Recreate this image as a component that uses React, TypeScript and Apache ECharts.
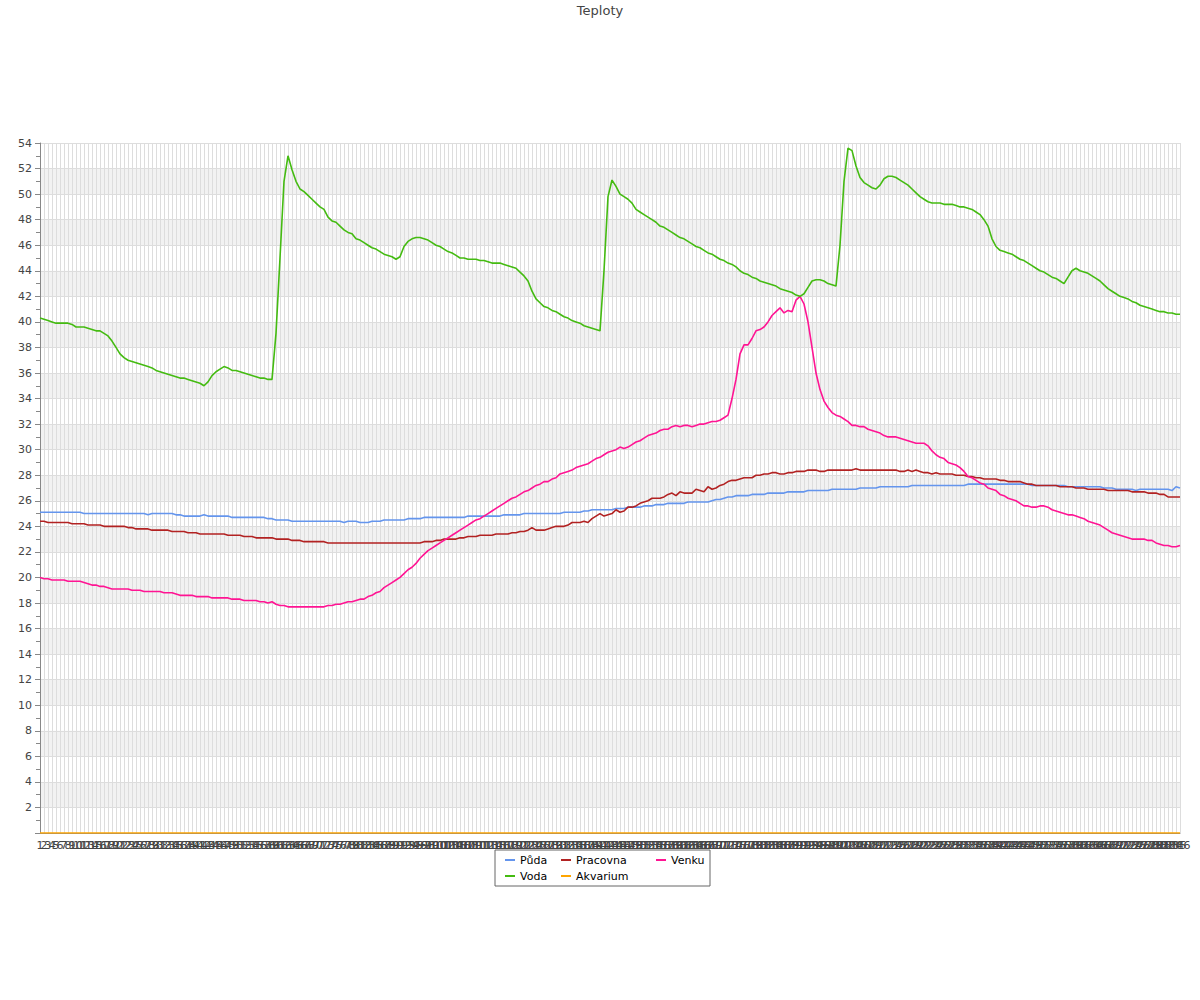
import React, { useEffect, useRef } from "react";
import * as echarts from "echarts";

const categories: string[] = [];
for (let i = 1; i <= 286; i++) categories.push(String(i));

const voda = [
  40.3, 40.2, 40.1, 40.0, 39.9, 39.9, 39.9, 39.9, 39.8, 39.6,
  39.6, 39.6, 39.5, 39.4, 39.3, 39.3, 39.1, 38.9, 38.5, 38.0,
  37.5, 37.2, 37.0, 36.9, 36.8, 36.7, 36.6, 36.5, 36.4, 36.2,
  36.1, 36.0, 35.9, 35.8, 35.7, 35.6, 35.6, 35.5, 35.4, 35.3,
  35.2, 35.0, 35.3, 35.8, 36.1, 36.3, 36.5, 36.4, 36.2, 36.2,
  36.1, 36.0, 35.9, 35.8, 35.7, 35.6, 35.6, 35.5, 35.5, 39.1,
  45.0, 51.0, 53.0, 51.9, 51.0, 50.4, 50.2, 49.9, 49.6, 49.3,
  49.0, 48.8, 48.2, 47.9, 47.8, 47.5, 47.2, 47.0, 46.9, 46.5,
  46.4, 46.2, 46.0, 45.8, 45.7, 45.5, 45.3, 45.2, 45.1, 44.9,
  45.1, 45.9, 46.3, 46.5, 46.6, 46.6, 46.5, 46.4, 46.2, 46.0,
  45.9, 45.7, 45.5, 45.4, 45.2, 45.0, 45.0, 44.9, 44.9, 44.9,
  44.8, 44.8, 44.7, 44.6, 44.6, 44.6, 44.5, 44.4, 44.3, 44.2,
  43.9, 43.6, 43.2, 42.4, 41.8, 41.5, 41.2, 41.1, 40.9, 40.8,
  40.6, 40.4, 40.3, 40.1, 40.0, 39.9, 39.7, 39.6, 39.5, 39.4,
  39.3, 44.0, 49.8, 51.1, 50.6, 50.0, 49.8, 49.6, 49.3, 48.8,
  48.6, 48.4, 48.2, 48.0, 47.8, 47.5, 47.4, 47.2, 47.0, 46.8,
  46.6, 46.5, 46.3, 46.1, 45.9, 45.8, 45.6, 45.4, 45.3, 45.1,
  44.9, 44.8, 44.6, 44.5, 44.3, 44.0, 43.8, 43.7, 43.5, 43.4,
  43.2, 43.1, 43.0, 42.9, 42.8, 42.6, 42.5, 42.4, 42.3, 42.1,
  42.0, 42.2, 42.7, 43.2, 43.3, 43.3, 43.2, 43.0, 42.9, 42.8,
  46.0, 51.0, 53.6, 53.4, 52.2, 51.3, 50.9, 50.7, 50.5, 50.4,
  50.7, 51.2, 51.4, 51.4, 51.3, 51.1, 50.9, 50.7, 50.4, 50.1,
  49.8, 49.6, 49.4, 49.3, 49.3, 49.3, 49.2, 49.2, 49.2, 49.1,
  49.0, 49.0, 48.9, 48.8, 48.6, 48.4, 48.0, 47.5, 46.5, 45.9,
  45.6, 45.5, 45.4, 45.3, 45.1, 44.9, 44.8, 44.6, 44.4, 44.2,
  44.0, 43.9, 43.7, 43.5, 43.4, 43.2, 43.0, 43.5, 44.0, 44.2,
  44.0, 43.9, 43.8, 43.6, 43.4, 43.2, 42.9, 42.6, 42.4, 42.2,
  42.0, 41.9, 41.8, 41.6, 41.5, 41.3, 41.2, 41.1, 41.0, 40.9,
  40.8, 40.8, 40.7, 40.7, 40.6, 40.6,
];

const puda = [
  25.1, 25.1, 25.1, 25.1, 25.1, 25.1, 25.1, 25.1, 25.1, 25.1,
  25.1, 25.0, 25.0, 25.0, 25.0, 25.0, 25.0, 25.0, 25.0, 25.0,
  25.0, 25.0, 25.0, 25.0, 25.0, 25.0, 25.0, 24.9, 25.0, 25.0,
  25.0, 25.0, 25.0, 25.0, 24.9, 24.9, 24.8, 24.8, 24.8, 24.8,
  24.8, 24.9, 24.8, 24.8, 24.8, 24.8, 24.8, 24.8, 24.7, 24.7,
  24.7, 24.7, 24.7, 24.7, 24.7, 24.7, 24.7, 24.6, 24.6, 24.5,
  24.5, 24.5, 24.5, 24.4, 24.4, 24.4, 24.4, 24.4, 24.4, 24.4,
  24.4, 24.4, 24.4, 24.4, 24.4, 24.4, 24.3, 24.4, 24.4, 24.4,
  24.3, 24.3, 24.3, 24.4, 24.4, 24.4, 24.5, 24.5, 24.5, 24.5,
  24.5, 24.5, 24.6, 24.6, 24.6, 24.6, 24.7, 24.7, 24.7, 24.7,
  24.7, 24.7, 24.7, 24.7, 24.7, 24.7, 24.7, 24.8, 24.8, 24.8,
  24.8, 24.8, 24.8, 24.8, 24.8, 24.8, 24.9, 24.9, 24.9, 24.9,
  24.9, 25.0, 25.0, 25.0, 25.0, 25.0, 25.0, 25.0, 25.0, 25.0,
  25.0, 25.1, 25.1, 25.1, 25.1, 25.1, 25.2, 25.2, 25.3, 25.3,
  25.3, 25.3, 25.3, 25.3, 25.4, 25.4, 25.4, 25.5, 25.5, 25.5,
  25.5, 25.6, 25.6, 25.6, 25.7, 25.7, 25.7, 25.8, 25.8, 25.8,
  25.8, 25.8, 25.9, 25.9, 25.9, 25.9, 25.9, 25.9, 26.0, 26.1,
  26.1, 26.2, 26.3, 26.3, 26.4, 26.4, 26.4, 26.4, 26.5, 26.5,
  26.5, 26.5, 26.6, 26.6, 26.6, 26.6, 26.6, 26.7, 26.7, 26.7,
  26.7, 26.7, 26.8, 26.8, 26.8, 26.8, 26.8, 26.8, 26.9, 26.9,
  26.9, 26.9, 26.9, 26.9, 26.9, 27.0, 27.0, 27.0, 27.0, 27.0,
  27.1, 27.1, 27.1, 27.1, 27.1, 27.1, 27.1, 27.1, 27.2, 27.2,
  27.2, 27.2, 27.2, 27.2, 27.2, 27.2, 27.2, 27.2, 27.2, 27.2,
  27.2, 27.2, 27.3, 27.3, 27.3, 27.3, 27.3, 27.3, 27.3, 27.3,
  27.3, 27.3, 27.3, 27.3, 27.3, 27.3, 27.3, 27.3, 27.2, 27.2,
  27.2, 27.2, 27.2, 27.2, 27.2, 27.2, 27.2, 27.1, 27.1, 27.1,
  27.1, 27.1, 27.1, 27.1, 27.1, 27.1, 27.0, 27.0, 27.0, 26.9,
  26.9, 26.9, 26.9, 26.9, 26.8, 26.9, 26.9, 26.9, 26.9, 26.9,
  26.9, 26.9, 26.9, 26.8, 27.1, 27.0,
];

const pracovna = [
  24.4, 24.4, 24.3, 24.3, 24.3, 24.3, 24.3, 24.3, 24.2, 24.2,
  24.2, 24.2, 24.1, 24.1, 24.1, 24.1, 24.0, 24.0, 24.0, 24.0,
  24.0, 24.0, 23.9, 23.9, 23.8, 23.8, 23.8, 23.8, 23.7, 23.7,
  23.7, 23.7, 23.7, 23.6, 23.6, 23.6, 23.6, 23.5, 23.5, 23.5,
  23.4, 23.4, 23.4, 23.4, 23.4, 23.4, 23.4, 23.3, 23.3, 23.3,
  23.3, 23.2, 23.2, 23.2, 23.1, 23.1, 23.1, 23.1, 23.1, 23.0,
  23.0, 23.0, 23.0, 22.9, 22.9, 22.9, 22.8, 22.8, 22.8, 22.8,
  22.8, 22.8, 22.7, 22.7, 22.7, 22.7, 22.7, 22.7, 22.7, 22.7,
  22.7, 22.7, 22.7, 22.7, 22.7, 22.7, 22.7, 22.7, 22.7, 22.7,
  22.7, 22.7, 22.7, 22.7, 22.7, 22.7, 22.8, 22.8, 22.8, 22.9,
  22.9, 23.0, 23.0, 23.0, 23.0, 23.1, 23.1, 23.2, 23.2, 23.2,
  23.3, 23.3, 23.3, 23.3, 23.4, 23.4, 23.4, 23.4, 23.5, 23.5,
  23.6, 23.6, 23.7, 23.9, 23.7, 23.7, 23.7, 23.8, 23.9, 24.0,
  24.0, 24.0, 24.1, 24.3, 24.3, 24.3, 24.4, 24.3, 24.6, 24.8,
  25.0, 24.8, 24.9, 25.0, 25.3, 25.1, 25.2, 25.5, 25.5, 25.6,
  25.8, 25.9, 26.0, 26.2, 26.2, 26.2, 26.3, 26.5, 26.6, 26.4,
  26.7, 26.6, 26.6, 26.6, 26.9, 26.8, 26.7, 27.1, 26.9, 27.0,
  27.2, 27.3, 27.5, 27.6, 27.6, 27.7, 27.8, 27.8, 27.8, 28.0,
  28.0, 28.1, 28.1, 28.2, 28.2, 28.1, 28.1, 28.2, 28.2, 28.3,
  28.3, 28.3, 28.4, 28.4, 28.4, 28.3, 28.3, 28.4, 28.4, 28.4,
  28.4, 28.4, 28.4, 28.4, 28.5, 28.4, 28.4, 28.4, 28.4, 28.4,
  28.4, 28.4, 28.4, 28.4, 28.4, 28.3, 28.3, 28.4, 28.3, 28.4,
  28.3, 28.2, 28.2, 28.1, 28.2, 28.1, 28.1, 28.1, 28.1, 28.0,
  28.0, 28.0, 27.9, 27.9, 27.8, 27.8, 27.7, 27.7, 27.7, 27.7,
  27.6, 27.6, 27.5, 27.5, 27.5, 27.5, 27.4, 27.3, 27.3, 27.2,
  27.2, 27.2, 27.2, 27.2, 27.2, 27.1, 27.1, 27.1, 27.1, 27.0,
  27.0, 27.0, 26.9, 26.9, 26.9, 26.9, 26.9, 26.8, 26.8, 26.8,
  26.8, 26.8, 26.8, 26.7, 26.7, 26.7, 26.7, 26.6, 26.6, 26.6,
  26.5, 26.5, 26.3, 26.3, 26.3, 26.3,
];

const venku = [
  20.0, 19.9, 19.9, 19.8, 19.8, 19.8, 19.8, 19.7, 19.7, 19.7,
  19.7, 19.6, 19.5, 19.4, 19.4, 19.3, 19.3, 19.2, 19.1, 19.1,
  19.1, 19.1, 19.1, 19.0, 19.0, 19.0, 18.9, 18.9, 18.9, 18.9,
  18.9, 18.8, 18.8, 18.8, 18.7, 18.6, 18.6, 18.6, 18.6, 18.5,
  18.5, 18.5, 18.5, 18.4, 18.4, 18.4, 18.4, 18.4, 18.3, 18.3,
  18.3, 18.2, 18.2, 18.2, 18.2, 18.1, 18.1, 18.0, 18.1, 17.9,
  17.8, 17.8, 17.7, 17.7, 17.7, 17.7, 17.7, 17.7, 17.7, 17.7,
  17.7, 17.7, 17.8, 17.8, 17.9, 17.9, 18.0, 18.1, 18.1, 18.2,
  18.3, 18.3, 18.5, 18.6, 18.8, 18.9, 19.2, 19.4, 19.6, 19.8,
  20.0, 20.3, 20.6, 20.8, 21.1, 21.5, 21.8, 22.1, 22.3, 22.5,
  22.7, 22.9, 23.1, 23.3, 23.5, 23.7, 23.9, 24.1, 24.3, 24.5,
  24.6, 24.8, 25.0, 25.2, 25.4, 25.6, 25.8, 26.0, 26.2, 26.3,
  26.5, 26.7, 26.8, 27.0, 27.2, 27.3, 27.5, 27.5, 27.7, 27.8,
  28.1, 28.2, 28.3, 28.4, 28.6, 28.7, 28.8, 28.9, 29.1, 29.3,
  29.4, 29.6, 29.8, 29.9, 30.0, 30.2, 30.1, 30.2, 30.4, 30.6,
  30.7, 30.9, 31.1, 31.2, 31.3, 31.5, 31.6, 31.6, 31.8, 31.9,
  31.8, 31.9, 31.9, 31.8, 31.9, 32.0, 32.0, 32.1, 32.2, 32.2,
  32.3, 32.5, 32.7, 34.0, 35.5, 37.5, 38.2, 38.2, 38.7, 39.3,
  39.4, 39.6, 40.0, 40.5, 40.8, 41.1, 40.7, 40.9, 40.8, 41.7,
  42.0, 41.4, 40.0, 38.0, 36.0, 34.7, 33.8, 33.3, 32.9, 32.7,
  32.6, 32.4, 32.2, 31.9, 31.9, 31.8, 31.8, 31.6, 31.5, 31.4,
  31.3, 31.1, 31.0, 31.0, 31.0, 30.9, 30.8, 30.7, 30.6, 30.5,
  30.5, 30.5, 30.3, 29.9, 29.6, 29.4, 29.3, 29.0, 28.9, 28.8,
  28.6, 28.3, 27.9, 27.8, 27.6, 27.4, 27.3, 27.0, 26.9, 26.8,
  26.5, 26.4, 26.2, 26.1, 26.0, 25.8, 25.6, 25.6, 25.5, 25.5,
  25.6, 25.6, 25.5, 25.3, 25.2, 25.1, 25.0, 24.9, 24.9, 24.8,
  24.7, 24.6, 24.4, 24.3, 24.2, 24.1, 23.9, 23.7, 23.5, 23.4,
  23.3, 23.2, 23.1, 23.0, 23.0, 23.0, 23.0, 22.9, 22.9, 22.7,
  22.6, 22.5, 22.5, 22.4, 22.4, 22.5,
];

const akvarium: number[] = categories.map(() => 0);

const seriesNames = ["Půda", "Pracovna", "Venku", "Voda", "Akvarium"];
const seriesColors = ["#6495ED", "#B22222", "#FF1493", "#44BB11", "#FFA500"];
const seriesData = [puda, pracovna, venku, voda, akvarium];
const legendTextWidths = [39, 78, 34, 39, 78];

const FONT = "DejaVu Sans";

export default function App() {
  const ref = useRef<HTMLDivElement>(null);
  useEffect(() => {
    document.body.style.margin = "0";
    const chart = echarts.init(ref.current!, null, { renderer: "svg" });
    chart.setOption({
      animation: false,
      textStyle: { fontFamily: FONT },
      title: {
        text: "Teploty",
        left: "center",
        top: 0,
        padding: [4, 5, 5, 5],
        textStyle: { fontFamily: FONT, fontSize: 13, fontWeight: "normal", color: "#444" },
      },
      legend: {
        left: 495,
        top: 850,
        width: 215,
        orient: "horizontal",
        padding: [3, 5, 3, 10],
        itemGap: 2,
        itemWidth: 10,
        itemHeight: 2,
        icon: "rect",
        borderColor: "#666",
        borderWidth: 1,
        textStyle: { fontFamily: FONT, fontSize: 11, color: "#000" },
        data: seriesNames.map((n, i) => ({
          name: n,
          textStyle: { width: legendTextWidths[i], height: 14, lineHeight: 14 },
        })),
      },
      grid: { left: 40, right: 20, top: 143, bottom: 167, containLabel: false },
      xAxis: {
        type: "category",
        data: categories,
        boundaryGap: false,
        axisLine: { show: true, lineStyle: { color: "#888" } },
        axisTick: { show: false },
        axisLabel: {
          interval: 0,
          hideOverlap: false,
          fontFamily: FONT,
          fontSize: 11,
          color: "#444",
          margin: 7,
        },
        splitLine: { show: true, interval: 0, lineStyle: { color: "#dddddd", width: 1 } },
      },
      yAxis: {
        type: "value",
        min: 0,
        max: 54,
        interval: 2,
        axisLine: { show: true, lineStyle: { color: "#888" } },
        axisTick: { show: true, length: 5, lineStyle: { color: "#888" } },
        minorTick: { show: true, splitNumber: 2, length: 4, lineStyle: { color: "#888" } },
        axisLabel: {
          fontFamily: FONT,
          fontSize: 11,
          color: "#444",
          margin: 8,
          formatter: (v: number) => (v === 0 ? "" : String(v)),
        },
        splitLine: { show: true, lineStyle: { color: "#dddddd" } },
        splitArea: { show: true, areaStyle: { color: ["rgba(255,255,255,0)", "#f2f2f2"] } },
      },
      series: seriesNames.map((n, i) => ({
        name: n,
        type: "line",
        data: seriesData[i],
        symbol: "none",
        showSymbol: false,
        smooth: false,
        lineStyle: { color: seriesColors[i], width: 1.6 },
        itemStyle: { color: seriesColors[i] },
        z: i === 4 ? 5 : 3,
      })),
    });
    return () => chart.dispose();
  }, []);
  return <div ref={ref} style={{ width: 1200, height: 1000 }} />;
}
